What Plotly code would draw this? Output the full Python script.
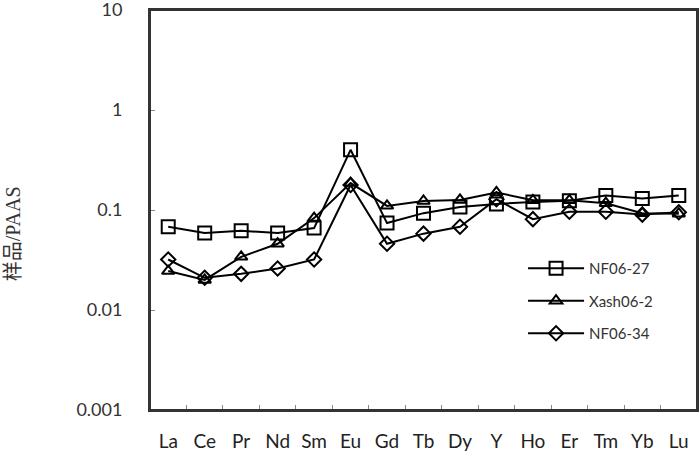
import plotly.graph_objects as go

# REE elements (x categories)
elements = ["La", "Ce", "Pr", "Nd", "Sm", "Eu", "Gd", "Tb", "Dy", "Y", "Ho", "Er", "Tm", "Yb", "Lu"]

# Sample / PAAS normalised values
nf06_27 = [0.068, 0.059, 0.062, 0.059, 0.066, 0.40, 0.074, 0.093, 0.107, 0.115, 0.120, 0.124, 0.140, 0.130, 0.140]
xash06_2 = [0.0245, 0.020, 0.034, 0.046, 0.083, 0.186, 0.110, 0.123, 0.126, 0.150, 0.125, 0.125, 0.117, 0.093, 0.092]
nf06_34 = [0.032, 0.021, 0.023, 0.026, 0.032, 0.178, 0.046, 0.058, 0.068, 0.128, 0.081, 0.096, 0.096, 0.090, 0.095]

y_tickvals = [0.001, 0.01, 0.1, 1, 10]
y_ticktext = ["0.001", "0.01", "0.1", "1", "10"]

series = [
    ("NF06-27", nf06_27, "square-open", 13),
    ("Xash06-2", xash06_2, "triangle-up-open", 11),
    ("NF06-34", nf06_34, "diamond-open", 11),
]

fig = go.Figure()
for name, values, symbol, size in series:
    fig.add_trace(
        go.Scatter(
            x=elements,
            y=values,
            name=name,
            legendgroup=name,
            mode="lines+markers",
            line=dict(color="black", width=2),
            marker=dict(
                symbol=symbol,
                size=size,
                color="black",
                line=dict(color="black", width=2),
            ),
        )
    )

fig.update_layout(
    width=700,
    height=454,
    margin=dict(l=150, r=3, t=10, b=44),
    plot_bgcolor="white",
    paper_bgcolor="white",
    font=dict(family="Lato, Open Sans, sans-serif", size=18, color="#333333"),
    legend=dict(
        x=0.682,
        y=0.395,
        xanchor="left",
        yanchor="top",
        bgcolor="rgba(0,0,0,0)",
        font=dict(family="Lato, Open Sans, sans-serif", size=15, color="#333333"),
        tracegroupgap=10,
        itemwidth=56,
    ),
)

fig.update_xaxes(
    type="category",
    range=[-0.5, 14.5],
    tickson="boundaries",
    ticks="inside",
    ticklen=5,
    tickcolor="#888888",
    showline=True,
    linecolor="#333333",
    linewidth=2,
    mirror=True,
    showgrid=False,
    automargin=False,
    tickfont=dict(size=19, color="#222222"),
    ticklabelstandoff=13,
)

fig.update_yaxes(
    type="log",
    range=[-3, 1.0001],
    tickvals=y_tickvals,
    ticktext=y_ticktext,
    ticks="inside",
    ticklen=5,
    tickcolor="#888888",
    showline=True,
    linecolor="#333333",
    linewidth=2,
    mirror=True,
    showgrid=False,
    zeroline=False,
    automargin=False,
    ticklabeloverflow="allow",
    tickfont=dict(size=18, color="#333333"),
    ticklabelstandoff=22,
)

# Plot area frame
fig.add_shape(
    type="rect",
    xref="paper",
    yref="paper",
    x0=0,
    y0=0,
    x1=1,
    y1=1,
    line=dict(color="#333333", width=2),
    layer="above",
)

# Y axis title placed as a rotated annotation
fig.add_annotation(
    text="样品/PAAS",
    xref="paper",
    yref="paper",
    x=-0.25,
    y=0.44,
    xanchor="center",
    yanchor="middle",
    textangle=-90,
    showarrow=False,
    font=dict(family="Liberation Serif, Noto Sans CJK SC, serif", size=20, color="#333333"),
)

fig.write_html(
    "out.html",
    config={"displayModeBar": False},
    post_script="document.body.style.margin='0px';",
)
